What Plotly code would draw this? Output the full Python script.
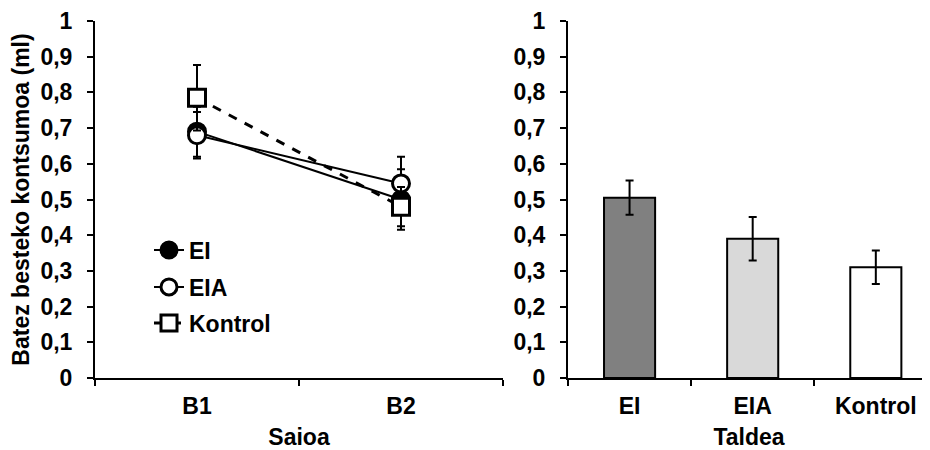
import plotly.graph_objects as go

# ---- data ----
sessions = ["B1", "B2"]
ei_vals = [0.69, 0.50]
ei_err = [0.07, 0.085]
eia_vals = [0.68, 0.545]
eia_err = [0.065, 0.075]
kontrol_vals = [0.785, 0.48]
kontrol_err = [0.092, 0.055]

groups = ["EI", "EIA", "Kontrol"]
group_vals = [0.505, 0.39, 0.31]
group_err = [0.048, 0.061, 0.047]
group_colors = ["#808080", "#d9d9d9", "#ffffff"]

y_ticks = [0, 0.1, 0.2, 0.3, 0.4, 0.5, 0.6, 0.7, 0.8, 0.9, 1]
y_ticktext = ["0", "0,1", "0,2", "0,3", "0,4", "0,5", "0,6", "0,7", "0,8", "0,9", "1"]

FONT = dict(family="Liberation Sans, Arial", size=23, color="black", weight="bold")

# page body has an 8px default margin: work in window pixels and shift
OFF = 8
W, H = 930 - OFF, 450 - OFF
PLOT_TOP, PLOT_BOT = 21 - OFF, 378 - OFF  # window px of y=1 and y=0


def px_x(x):
    return (x - OFF) / W


fig = go.Figure()


def line_trace(name, vals, err, symbol, fill, dash, lw, legend):
    return go.Scatter(
        x=sessions, y=vals, name=name, mode="lines+markers",
        line=dict(color="black", width=lw, dash=dash),
        marker=dict(symbol=symbol, size=17, color=fill, line=dict(color="black", width=3)),
        error_y=dict(type="data", array=err, color="black", thickness=2, width=4),
        xaxis="x", yaxis="y", legend=legend,
    )


fig.add_trace(line_trace("EI", ei_vals, ei_err, "circle", "black", "solid", 2, "legend"))
fig.add_trace(line_trace("EIA", eia_vals, eia_err, "circle", "white", "solid", 2, "legend2"))
fig.add_trace(line_trace("Kontrol", kontrol_vals, kontrol_err, "square", "white", "dash", 3, "legend3"))

fig.add_trace(go.Bar(
    x=groups, y=group_vals, width=0.415,
    marker=dict(color=group_colors, line=dict(color="black", width=2)),
    error_y=dict(type="data", array=group_err, color="black", thickness=2, width=4),
    xaxis="x2", yaxis="y2", showlegend=False,
))

axis_common = dict(showline=True, linecolor="black", linewidth=2, showgrid=False,
                   zeroline=False, ticks="outside", tickcolor="black", tickwidth=2,
                   ticklen=6, tickfont=FONT, automargin=False)
x_extra = dict(ticklabelstandoff=6)
y_extra = dict(ticklabelstandoff=10)

leg_common = dict(font=FONT, bgcolor="rgba(0,0,0,0)", xanchor="left", yanchor="middle",
                  itemwidth=30)

plot_h = PLOT_BOT - PLOT_TOP

fig.update_layout(
    width=W, height=H,
    margin=dict(l=0, r=0, t=PLOT_TOP, b=H - PLOT_BOT),
    plot_bgcolor="white", paper_bgcolor="white",
    font=FONT,
    xaxis=dict(domain=[px_x(95), px_x(503)], type="category", tickson="boundaries",
               categoryorder="array", categoryarray=sessions, range=[-0.5, 1.5],
               title=dict(text="Saioa", font=FONT, standoff=11), **axis_common, **x_extra),
    yaxis=dict(domain=[0, 1], range=[0, 1], tickvals=y_ticks, ticktext=y_ticktext,
               title=dict(text="Batez besteko kontsumoa (ml)", font=FONT, standoff=8),
               anchor="x", **axis_common, **y_extra),
    xaxis2=dict(domain=[px_x(568), 1], type="category", tickson="boundaries",
                categoryorder="array", categoryarray=groups, range=[-0.5, 2.44],
                anchor="y2",
                title=dict(text="Taldea", font=FONT, standoff=11), **axis_common, **x_extra),
    yaxis2=dict(domain=[0, 1], range=[0, 1], tickvals=y_ticks, ticktext=y_ticktext,
                anchor="x2", **axis_common, **y_extra),
)
for key, ypix in (("legend", 250), ("legend2", 287), ("legend3", 323)):
    fig.layout[key] = dict(x=px_x(149), y=(PLOT_BOT - (ypix - OFF)) / plot_h, **leg_common)

fig.write_html("out.html")
